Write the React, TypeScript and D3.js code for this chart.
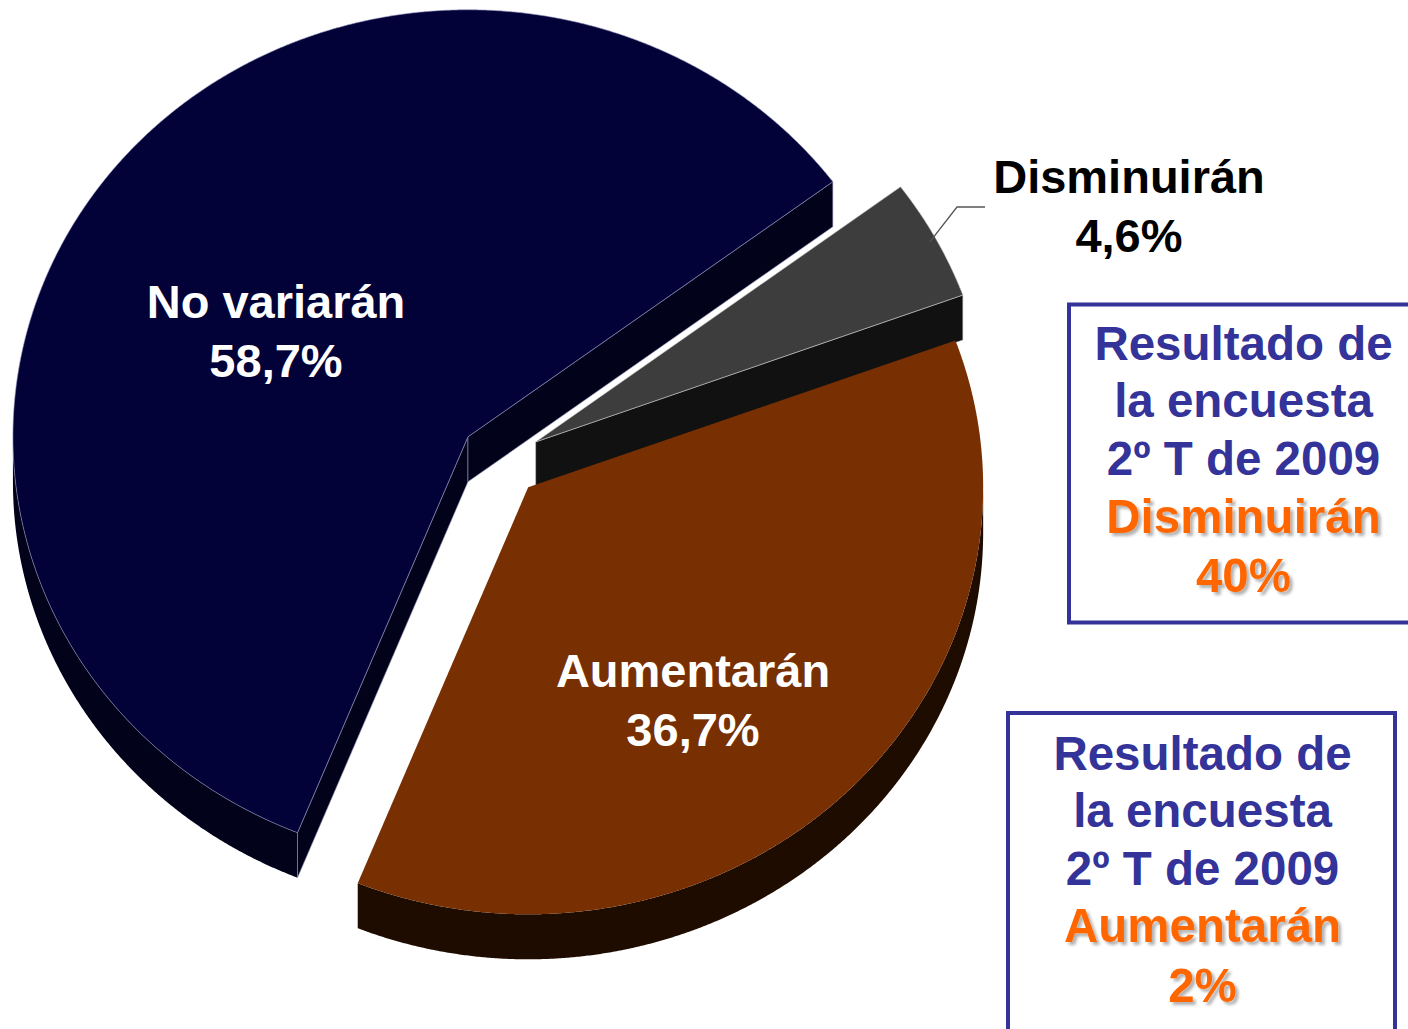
import React, { useEffect } from "react";
import * as d3 from "d3";

// Pie data: expectation shares
const categories = ["No variarán", "Disminuirán", "Aumentarán"];
const shares = [58.7, 4.6, 36.7];
const shareLabels = ["58,7%", "4,6%", "36,7%"];

// Previous survey results shown in the side boxes
const surveyHeader = ["Resultado de", "la encuesta", "2º T de 2009"];
const surveyCategories = ["Disminuirán", "Aumentarán"];
const surveyValues = [40, 2];

// Styling
const topColors = ["#020238", "#3d3d3d", "#782f02"];
const sideColors = ["#02021a", "#111111", "#1f0c01"];
const edgeColors = ["rgba(150,150,190,0.75)", "rgba(200,200,200,0.75)", "none"];
const labelColors = ["#ffffff", "#000000", "#ffffff"];
const labelPos: [number, number][] = [
  [276, 318],
  [1129, 193],
  [693, 687],
];

const W = 1408;
const H = 1029;
const cx = 500;
const cy = 460;
const rx = 455;
const ry = 427;
const depth = 45;
const explode = 40.5;
const startDeg = 112;
const FONT = "'Liberation Sans', Arial, Helvetica, sans-serif";
const BLUE = "#333399";
const ORANGE = "#ff6600";

type Pt = [number, number];

export default function App() {
  useEffect(() => {
    document.body.style.margin = "0";
  }, []);

  const start = ((startDeg + 90) * Math.PI) / 180;
  const pie = d3
    .pie<number>()
    .sort(null)
    .value((d) => d)
    .startAngle(start)
    .endAngle(start + 2 * Math.PI);
  const arcs = pie(shares);
  const line = d3.line<Pt>();

  const slices = arcs.map((a, i) => {
    const t1 = a.startAngle - Math.PI / 2;
    const t2 = a.endAngle - Math.PI / 2;
    const mid = (t1 + t2) / 2;
    const ox = cx + explode * Math.cos(mid);
    const oy = cy + explode * Math.sin(mid) * (ry / rx);
    const pt = (t: number, dz = 0, s = 1): Pt => [
      ox + s * rx * Math.cos(t),
      oy + s * ry * Math.sin(t) + dz,
    ];
    const rim = (a0: number, a1: number, dz = 0): Pt[] => {
      const n = Math.max(2, Math.ceil(Math.abs(a1 - a0) / 0.004));
      return d3.range(n + 1).map((j) => pt(a0 + ((a1 - a0) * j) / n, dz));
    };
    const top = line([[ox, oy], ...rim(t1, t2)]) + "Z";
    // outer wall: only the front half (0..π) is visible
    const walls: string[] = [];
    for (let n = -1; n <= 2; n++) {
      const lo = Math.max(t1, 2 * Math.PI * n);
      const hi = Math.min(t2, 2 * Math.PI * n + Math.PI);
      if (lo < hi) walls.push(line([...rim(lo, hi), ...rim(hi, lo, depth)]) + "Z");
    }
    // radial cut faces that turn toward the viewer
    const faces: string[] = [];
    if (Math.cos(t1) < 0)
      faces.push(line([[ox, oy], pt(t1), pt(t1, depth), [ox, oy + depth]]) + "Z");
    if (Math.cos(t2) > 0)
      faces.push(line([[ox, oy], pt(t2), pt(t2, depth), [ox, oy + depth]]) + "Z");
    return { i, top, walls, faces, mid, pt };
  });

  // leader line from the small slice to its label
  const gray = slices[1];
  const leaderStart = gray.pt(gray.mid, 0, 0.985);
  const leader = line([leaderStart, [957, 207], [985, 207]]);

  const boxes = [
    { x: 1069, y: 304.5, w: 400, h: 318, tx: 1243.5, base: [360, 417, 475, 533, 592] },
    { x: 1008, y: 713, w: 387, h: 400, tx: 1202.5, base: [770, 827, 885, 942, 1002] },
  ];

  return (
    <svg
      width={W}
      height={H}
      viewBox={`0 0 ${W} ${H}`}
      style={{ position: "absolute", left: 0, top: 0, display: "block", background: "#fff" }}
      fontFamily={FONT}
      fontWeight="bold"
    >
      <defs>
        <filter id="textShadow" x="-10%" y="-20%" width="130%" height="150%">
          <feDropShadow dx="3" dy="3" stdDeviation="1.6" floodColor="#000" floodOpacity="0.3" />
        </filter>
      </defs>
      <rect width={W} height={H} fill="#fff" />

      {/* outer walls */}
      {slices.map((s) =>
        s.walls.map((d, k) => (
          <path key={`wall-${s.i}-${k}`} d={d} fill={sideColors[s.i]} />
        ))
      )}
      {/* cut faces */}
      {slices.map((s) =>
        s.faces.map((d, k) => (
          <path
            key={`face-${s.i}-${k}`}
            d={d}
            fill={sideColors[s.i]}
            stroke={edgeColors[s.i]}
            strokeWidth={0.8}
          />
        ))
      )}
      {/* top faces */}
      {slices.map((s) => (
        <path
          key={`top-${s.i}`}
          d={s.top}
          fill={topColors[s.i]}
          stroke={edgeColors[s.i]}
          strokeWidth={0.8}
        />
      ))}

      <path d={leader ?? ""} fill="none" stroke="#555" strokeWidth={1.3} />

      {/* slice labels */}
      {categories.map((c, i) => (
        <text
          key={`lab-${i}`}
          x={labelPos[i][0]}
          y={labelPos[i][1]}
          textAnchor="middle"
          fontSize={47}
          fill={labelColors[i]}
        >
          <tspan x={labelPos[i][0]}>{c}</tspan>
          <tspan x={labelPos[i][0]} dy={59}>
            {shareLabels[i]}
          </tspan>
        </text>
      ))}

      {/* previous survey boxes */}
      {boxes.map((b, j) => (
        <g key={`box-${j}`}>
          <rect x={b.x} y={b.y} width={b.w} height={b.h} fill="#fff" stroke={BLUE} strokeWidth={4} />
          {surveyHeader.map((t, k) => (
            <text key={k} x={b.tx} y={b.base[k]} textAnchor="middle" fontSize={47.5} fill={BLUE}>
              {t}
            </text>
          ))}
          <g filter="url(#textShadow)">
            <text x={b.tx} y={b.base[3]} textAnchor="middle" fontSize={47.5} fill={ORANGE}>
              {surveyCategories[j]}
            </text>
            <text x={b.tx} y={b.base[4]} textAnchor="middle" fontSize={47.5} fill={ORANGE}>
              {`${surveyValues[j]}%`}
            </text>
          </g>
        </g>
      ))}
    </svg>
  );
}
